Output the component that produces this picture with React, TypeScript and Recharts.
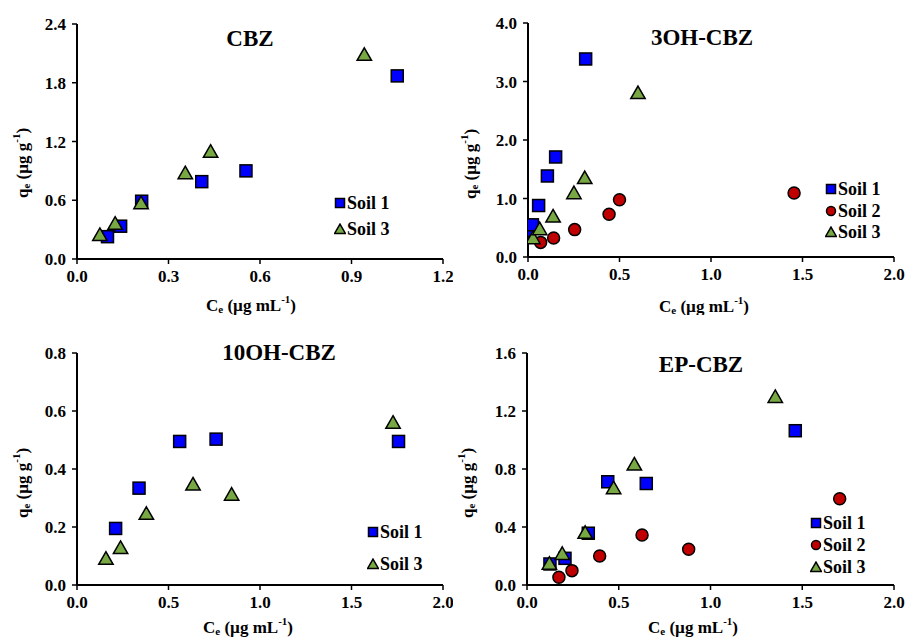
import React from "react";
import { ScatterChart, Scatter, XAxis, YAxis, Legend } from "recharts";

const FONT = "'Times New Roman', 'Liberation Serif', serif";
const BLUE = "#0000FF";
const RED = "#C00000";
const GREEN = "#77A844";

// CBZ
const cbzSoil1 = [
  { x: 0.1, y: 0.228 }, { x: 0.143, y: 0.335 }, { x: 0.212, y: 0.59 },
  { x: 0.409, y: 0.79 }, { x: 0.554, y: 0.9 }, { x: 1.05, y: 1.87 },
];
const cbzSoil3 = [
  { x: 0.075, y: 0.25 }, { x: 0.125, y: 0.365 }, { x: 0.21, y: 0.575 },
  { x: 0.355, y: 0.88 }, { x: 0.438, y: 1.1 }, { x: 0.942, y: 2.09 },
];

// 3OH-CBZ
const oh3Soil1 = [
  { x: 0.004, y: 0.456 }, { x: 0.024, y: 0.55 }, { x: 0.058, y: 0.88 },
  { x: 0.106, y: 1.385 }, { x: 0.151, y: 1.71 }, { x: 0.315, y: 3.385 },
];
const oh3Soil2 = [
  { x: 0.069, y: 0.25 }, { x: 0.14, y: 0.325 }, { x: 0.255, y: 0.468 },
  { x: 0.443, y: 0.73 }, { x: 0.5, y: 0.98 }, { x: 1.454, y: 1.094 },
];
const oh3Soil3 = [
  { x: 0.027, y: 0.33 }, { x: 0.064, y: 0.485 }, { x: 0.137, y: 0.7 },
  { x: 0.251, y: 1.1 }, { x: 0.31, y: 1.357 }, { x: 0.601, y: 2.81 },
];

// 10OH-CBZ
const oh10Soil1 = [
  { x: 0.211, y: 0.195 }, { x: 0.339, y: 0.334 }, { x: 0.561, y: 0.495 },
  { x: 0.76, y: 0.503 }, { x: 1.757, y: 0.495 },
];
const oh10Soil3 = [
  { x: 0.158, y: 0.092 }, { x: 0.238, y: 0.129 }, { x: 0.379, y: 0.247 },
  { x: 0.634, y: 0.348 }, { x: 0.845, y: 0.313 }, { x: 1.727, y: 0.561 },
];

// EP-CBZ
const epSoil1 = [
  { x: 0.125, y: 0.145 }, { x: 0.207, y: 0.184 }, { x: 0.334, y: 0.357 },
  { x: 0.44, y: 0.712 }, { x: 0.65, y: 0.7 }, { x: 1.462, y: 1.064 },
];
const epSoil2 = [
  { x: 0.174, y: 0.053 }, { x: 0.245, y: 0.099 }, { x: 0.396, y: 0.2 },
  { x: 0.627, y: 0.345 }, { x: 0.881, y: 0.246 }, { x: 1.704, y: 0.595 },
];
const epSoil3 = [
  { x: 0.122, y: 0.15 }, { x: 0.192, y: 0.218 }, { x: 0.317, y: 0.363 },
  { x: 0.472, y: 0.671 }, { x: 0.585, y: 0.834 }, { x: 1.353, y: 1.3 },
];

const cbzXTicks = [0, 0.3, 0.6, 0.9, 1.2];
const cbzYTicks = [0, 0.6, 1.2, 1.8, 2.4];
const wideXTicks = [0, 0.5, 1, 1.5, 2];
const oh3YTicks = [0, 1, 2, 3, 4];
const oh10YTicks = [0, 0.2, 0.4, 0.6, 0.8];
const epYTicks = [0, 0.4, 0.8, 1.2, 1.6];

type Kind = "square" | "circle" | "triangle";

const Marker = ({ kind, cx, cy, s, fill }: { kind: Kind; cx: number; cy: number; s: number; fill: string }) => {
  const h = s / 2;
  if (kind === "square")
    return <rect x={cx - h} y={cy - h} width={s} height={s} fill={fill} stroke="#000" strokeWidth={1.5} />;
  if (kind === "circle")
    return <circle cx={cx} cy={cy} r={h} fill={fill} stroke="#000" strokeWidth={1.5} />;
  return (
    <path
      d={`M${cx},${cy - h * 1.1}L${cx + h * 1.2},${cy + h}L${cx - h * 1.2},${cy + h}Z`}
      fill={fill}
      stroke="#000"
      strokeWidth={1.5}
      strokeLinejoin="miter"
    />
  );
};

const AxisTitle = ({ px, py, main, sub, unit, sup, rotate }: any) => (
  <text
    x={px}
    y={py}
    textAnchor="middle"
    dominantBaseline="central"
    transform={rotate ? `rotate(-90 ${px} ${py})` : undefined}
    fontFamily={FONT}
    fontWeight="bold"
    fontSize={17}
    fill="#000"
  >
    <tspan>{main}</tspan>
    <tspan fontSize={11} dy={4}>{sub}</tspan>
    <tspan dy={-4}>{` (µg ${unit}`}</tspan>
    <tspan fontSize={11} dy={-6}>-1</tspan>
    <tspan dy={6}>)</tspan>
  </text>
);

interface Series { name: string; data: { x: number; y: number }[]; color: string; kind: Kind }

interface PanelCfg {
  left: number; top: number; w: number; h: number;
  plot: { x0: number; x1: number; y0: number; y1: number };
  xMax: number; yMax: number; xTicks: number[]; yTicks: number[];
  title: string; titleAt: [number, number];
  series: Series[];
  legendAt: [number, number]; legendGap: number;
  xLabelAt: [number, number]; yLabelAt: [number, number];
}

const fmt = (v: number) => v.toFixed(1);
const tickStyle = { fill: "#000", fontSize: 17, fontWeight: "bold", fontFamily: FONT };

function Panel({ c }: { c: PanelCfg }) {
  const yAxisW = 50;
  const xAxisH = 40;
  const margin = {
    top: c.plot.y0 - c.top,
    left: c.plot.x0 - c.left - yAxisW,
    right: c.left + c.w - c.plot.x1,
    bottom: c.top + c.h - c.plot.y1 - xAxisH,
  };
  const legend = () => (
    <div style={{ display: "flex", flexDirection: "column", rowGap: c.legendGap, fontFamily: FONT, fontWeight: "bold", fontSize: 18, lineHeight: "18px", color: "#000" }}>
      {c.series.map((s) => (
        <div key={s.name} style={{ display: "flex", alignItems: "center" }}>
          <svg width={12} height={12}>
            <Marker kind={s.kind} cx={6} cy={6} s={9} fill={s.color} />
          </svg>
          <span style={{ marginLeft: 1, whiteSpace: "nowrap" }}>{s.name}</span>
        </div>
      ))}
    </div>
  );
  return (
    <div style={{ position: "absolute", left: c.left, top: c.top, width: c.w, height: c.h }}>
      <ScatterChart width={c.w} height={c.h} margin={margin}>
        <XAxis
          type="number"
          dataKey="x"
          domain={[0, c.xMax]}
          ticks={c.xTicks}
          interval={0}
          allowDataOverflow
          tickFormatter={fmt}
          height={xAxisH}
          axisLine={{ stroke: "#000", strokeWidth: 2 }}
          tickLine={{ stroke: "#000", strokeWidth: 1.5 }}
          tickSize={5}
          tickMargin={6}
          tick={tickStyle}
          label={<AxisTitle px={c.xLabelAt[0] - c.left} py={c.xLabelAt[1] - c.top} main="C" sub="e" unit="mL" />}
        />
        <YAxis
          type="number"
          dataKey="y"
          domain={[0, c.yMax]}
          ticks={c.yTicks}
          interval={0}
          allowDataOverflow
          tickFormatter={fmt}
          width={yAxisW}
          axisLine={{ stroke: "#000", strokeWidth: 2 }}
          tickLine={{ stroke: "#000", strokeWidth: 1.5 }}
          tickSize={5}
          tickMargin={6}
          tick={tickStyle}
          label={<AxisTitle px={c.yLabelAt[0] - c.left} py={c.yLabelAt[1] - c.top} main="q" sub="e" unit="g" rotate />}
        />
        {c.series.map((s) => (
          <Scatter
            key={s.name}
            name={s.name}
            data={s.data}
            fill={s.color}
            isAnimationActive={false}
            shape={(p: any) => <Marker kind={s.kind} cx={p.cx} cy={p.cy} s={12} fill={s.color} />}
          />
        ))}
        <Legend
          layout="vertical"
          align="center"
          verticalAlign="middle"
          content={legend}
          wrapperStyle={{ left: c.legendAt[0] - c.left, top: c.legendAt[1] - c.top, width: "auto" }}
        />
      </ScatterChart>
      <div
        style={{
          position: "absolute",
          left: c.titleAt[0] - c.left,
          top: c.titleAt[1] - c.top,
          transform: "translate(-50%, -50%)",
          fontFamily: FONT,
          fontWeight: "bold",
          fontSize: 23,
          whiteSpace: "nowrap",
          color: "#000",
        }}
      >
        {c.title}
      </div>
    </div>
  );
}

const panels: PanelCfg[] = [
  {
    left: 0, top: 0, w: 453, h: 315,
    plot: { x0: 77, x1: 443, y0: 24, y1: 259 },
    xMax: 1.2, yMax: 2.4, xTicks: cbzXTicks, yTicks: cbzYTicks,
    title: "CBZ", titleAt: [250, 39],
    series: [
      { name: "Soil 1", data: cbzSoil1, color: BLUE, kind: "square" },
      { name: "Soil 3", data: cbzSoil3, color: GREEN, kind: "triangle" },
    ],
    legendAt: [334, 194], legendGap: 8,
    xLabelAt: [251, 305], yLabelAt: [22, 163],
  },
  {
    left: 453, top: 0, w: 454, h: 315,
    plot: { x0: 528, x1: 894, y0: 23, y1: 257 },
    xMax: 2, yMax: 4, xTicks: wideXTicks, yTicks: oh3YTicks,
    title: "3OH-CBZ", titleAt: [702, 38],
    series: [
      { name: "Soil 1", data: oh3Soil1, color: BLUE, kind: "square" },
      { name: "Soil 2", data: oh3Soil2, color: RED, kind: "circle" },
      { name: "Soil 3", data: oh3Soil3, color: GREEN, kind: "triangle" },
    ],
    legendAt: [825, 180], legendGap: 3.5,
    xLabelAt: [704, 306], yLabelAt: [470, 164],
  },
  {
    left: 0, top: 315, w: 453, h: 322,
    plot: { x0: 77, x1: 443, y0: 353, y1: 585 },
    xMax: 2, yMax: 0.8, xTicks: wideXTicks, yTicks: oh10YTicks,
    title: "10OH-CBZ", titleAt: [279, 353],
    series: [
      { name: "Soil 1", data: oh10Soil1, color: BLUE, kind: "square" },
      { name: "Soil 3", data: oh10Soil3, color: GREEN, kind: "triangle" },
    ],
    legendAt: [367, 523], legendGap: 13.6,
    xLabelAt: [248, 627], yLabelAt: [22, 483],
  },
  {
    left: 453, top: 315, w: 454, h: 322,
    plot: { x0: 527, x1: 894, y0: 353, y1: 585 },
    xMax: 2, yMax: 1.6, xTicks: wideXTicks, yTicks: epYTicks,
    title: "EP-CBZ", titleAt: [701, 365],
    series: [
      { name: "Soil 1", data: epSoil1, color: BLUE, kind: "square" },
      { name: "Soil 2", data: epSoil2, color: RED, kind: "circle" },
      { name: "Soil 3", data: epSoil3, color: GREEN, kind: "triangle" },
    ],
    legendAt: [810, 514], legendGap: 4,
    xLabelAt: [693, 627], yLabelAt: [467, 483],
  },
];

export default function App() {
  return (
    <div style={{ position: "absolute", left: 0, top: 0, width: 907, height: 637, background: "#fff" }}>
      {panels.map((p) => (
        <Panel key={p.title} c={p} />
      ))}
    </div>
  );
}
